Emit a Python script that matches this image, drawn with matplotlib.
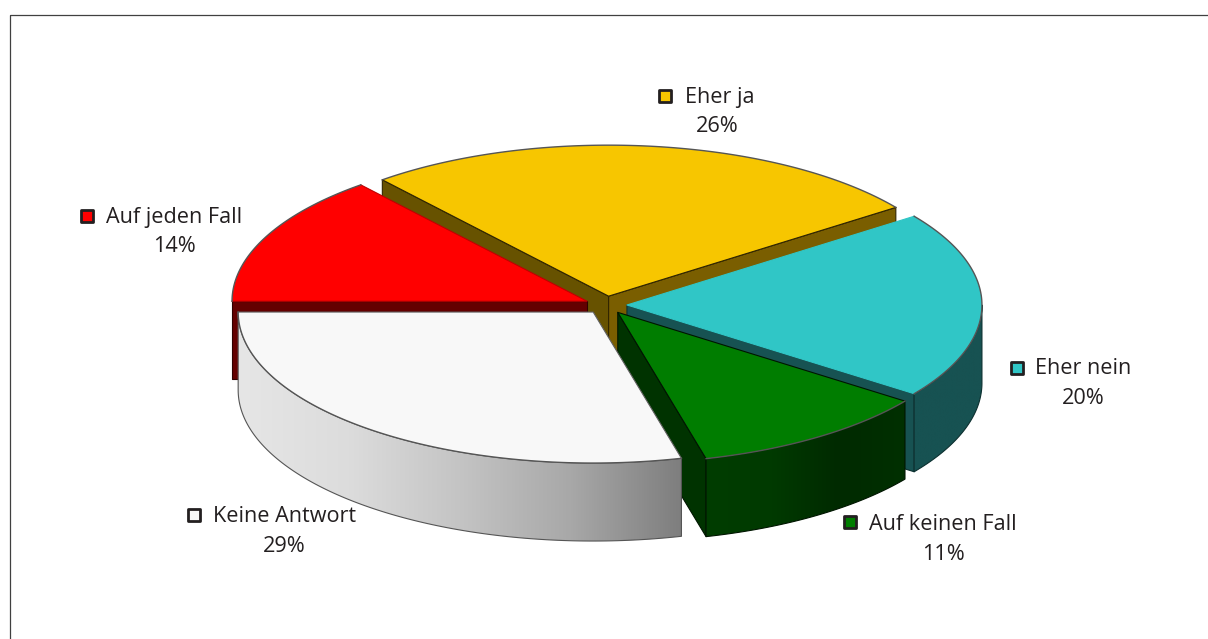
import numpy as np
import matplotlib
matplotlib.use('Agg')
import matplotlib.pyplot as plt
from matplotlib.colors import LinearSegmentedColormap
from matplotlib.markers import MarkerStyle
from matplotlib.patches import Polygon, Rectangle

plt.rcParams['font.family'] = ['Open Sans', 'DejaVu Sans']

# Survey answers, clockwise from the left of the pie
labels = ['Auf jeden Fall', 'Eher ja', 'Eher nein', 'Auf keinen Fall', 'Keine Antwort']
values = [14, 26, 20, 11, 29]

top_colors = ['#ff0000', '#f7c600', '#30c6c6', '#007d00', '#f8f8f8']
# cut face colours: first edge, last edge
cut_colors = [('#640000', '#640000'), ('#675200', '#7a5e00'), ('#175252', '#175252'),
              ('#003300', '#003300'), ('#808080', '#808080')]
wall_gradients = [
    ['#6a0000', '#6a0000'],
    ['#7a5e00', '#7a5e00'],
    ['#175252', '#175252'],
    ['#003d00', '#003a00', '#002a00', '#003000'],
    ['#e6e6e6', '#dcdcdc', '#c4c4c4', '#a8a8a8', '#7e7e7e'],
]
edge_colors = ['#300000', '#302500', '#0c3030', '#001500', '#505050']
radial_colors = ['#c00000', '#302500', '#30c6c6', '#001500', '#606060']
rim_color = '#555555'

# which cut faces of each slice turn towards the viewer: 0 = first edge, 1 = last edge
open_cuts = [[0], [0, 1], [1], [1], []]

# Pie geometry in pixels
center_x, center_y = 606, 305
radius_x, radius_y = 355, 151
explode = 0.059
depth = 78

# Legend placement: marker, name and percentage per slice
marker_xy = [(87, 216), (665, 96), (1017, 368), (850, 522), (194, 515)]
name_xy = [(106, 218), (685, 98), (1035, 369), (869, 524), (213, 516)]
pct_xy = [(174, 247), (717, 127), (1083, 398), (943, 554), (284, 546)]

fig = plt.figure(figsize=(12.08, 6.39), dpi=100)
ax = fig.add_axes([0, 0, 1, 1])


def arc(cx, cy, a0, a1, n=120):
    t = np.radians(np.linspace(a0, a1, n))
    return np.column_stack([cx + radius_x * np.cos(t), cy - radius_y * np.sin(t)])


def add_poly(points, face, edge, z):
    patch = Polygon(points, closed=True, facecolor=face, edgecolor=edge,
                    linewidth=0.8, joinstyle='round', zorder=z)
    ax.add_patch(patch)
    return patch


# slice angles
fractions = np.array(values) / sum(values) * 360
ends = 180 - np.cumsum(fractions)
starts = ends + fractions

# back slices first, the front one last
draw_order = [1, 0, 2, 3, 4]
z = 2
for i in draw_order:
    a0, a1 = starts[i], ends[i]
    mid = np.radians((a0 + a1) / 2)
    cx = center_x + explode * radius_x * np.cos(mid)
    cy = center_y - explode * radius_y * np.sin(mid)
    apex = np.array([cx, cy])
    down = np.array([0, depth])

    # straight cut faces
    for k in open_cuts[i]:
        rim = arc(cx, cy, (a0, a1)[k], (a0, a1)[k], 1)[0]
        add_poly([apex, rim, rim + down, apex + down], cut_colors[i][k], edge_colors[i], z)
        z += 1

    # outer rim wall with a horizontal gradient
    w0, w1 = min(a0, 0), min(a1, 0)
    if w0 > w1:
        upper = arc(cx, cy, w0, w1)
        wall = np.vstack([upper, (upper + down)[::-1]])
        outline = add_poly(wall, 'none', rim_color if i == 4 else edge_colors[i], z + 1)
        cmap = LinearSegmentedColormap.from_list('wall', wall_gradients[i])
        im = ax.imshow(np.linspace(0, 1, 256)[None, :], cmap=cmap, aspect='auto',
                       extent=(wall[:, 0].min(), wall[:, 0].max(),
                               wall[:, 1].max(), wall[:, 1].min()), zorder=z)
        im.set_clip_path(outline)
        z += 2

    # top face, then its straight edges and the grey rim line
    curve = arc(cx, cy, a0, a1)
    add_poly(np.vstack([apex, curve]), top_colors[i], 'none', z)
    ax.plot([curve[0, 0], cx, curve[-1, 0]], [curve[0, 1], cy, curve[-1, 1]],
            color=radial_colors[i], linewidth=0.8, zorder=z + 1)
    ax.plot(curve[:, 0], curve[:, 1], color=rim_color, linewidth=1.0, zorder=z + 1)
    z += 2

# labels with their colour keys
for i in range(len(labels)):
    mx, my = marker_xy[i]
    ax.plot(mx, my, linestyle='none', marker=MarkerStyle('s', joinstyle='round'), markersize=8.4,
            markerfacecolor=top_colors[i], markeredgecolor='#231f20', markeredgewidth=2.0, zorder=50)
    ax.text(name_xy[i][0], name_xy[i][1], labels[i], fontsize=15.6, color='#231f20',
            ha='left', va='center', zorder=50)
    ax.text(pct_xy[i][0], pct_xy[i][1], f'{values[i]}%', fontsize=15.6, color='#231f20',
            ha='center', va='center', zorder=50)

# outer frame, cut off by the right and bottom of the figure
ax.add_patch(Rectangle((9.5, 14.5), 1300, 700, facecolor='none', edgecolor='#404040',
                       linewidth=0.9, zorder=1))

ax.set_xlim(0, 1208)
ax.set_ylim(639, 0)
ax.axis('off')

fig.savefig('out.png', dpi=100)
